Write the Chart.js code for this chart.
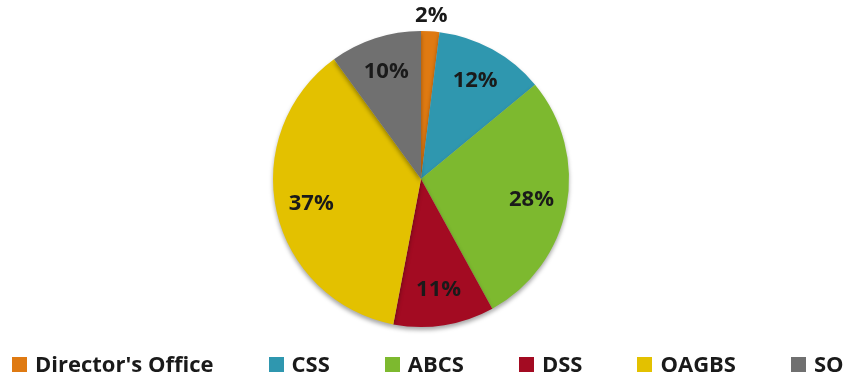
<!DOCTYPE html>
<html>
<head>
<meta charset="utf-8">
<script src="https://cdn.jsdelivr.net/npm/chart.js@4/dist/chart.umd.min.js"></script>
<style>
  html, body { margin: 0; padding: 0; background: #fff; }
  #wrap { position: relative; width: 848px; height: 375px; }
  #legend {
    position: absolute; left: 12px; top: 348px;
    display: flex; align-items: center; gap: 55px;
    font-family: "Open Sans", sans-serif;
    font-weight: bold; font-size: 22px; line-height: 30px; color: #1a1a1a; white-space: nowrap;
  }
  #legend .item { display: flex; align-items: center; }
  #legend .box { width: 15px; height: 15px; margin-right: 8px; margin-top: 2px; }
</style>
</head>
<body>
<div id="wrap">
  <canvas id="deptChart" width="848" height="375"></canvas>
  <div id="legend"></div>
</div>
<script>
const departments = ["Director's Office", 'CSS', 'ABCS', 'DSS', 'OAGBS', 'SO'];
const shares = [2, 12, 28, 11, 37, 10];
const sliceColors = ['#DF7A12', '#2F97AF', '#7DB92F', '#A30B22', '#E3C100', '#707070'];

const labelFont = 'bold 22px "Open Sans", sans-serif';

// soft drop shadow under the pie
const pieShadow = {
  id: 'pieShadow',
  beforeDatasetsDraw(chart) {
    const ctx = chart.ctx;
    ctx.save();
    ctx.shadowColor = 'rgba(0,0,0,0.35)';
    ctx.shadowBlur = 4;
    ctx.shadowOffsetY = 3;
  },
  afterDatasetsDraw(chart) {
    chart.ctx.restore();
  }
};

// percentage labels, small slices get theirs outside the rim
const sliceLabels = {
  id: 'sliceLabels',
  afterDraw(chart) {
    const ctx = chart.ctx;
    const meta = chart.getDatasetMeta(0);
    ctx.save();
    ctx.font = labelFont;
    ctx.fillStyle = '#1a1a1a';
    ctx.textAlign = 'center';
    ctx.textBaseline = 'middle';
    meta.data.forEach((arc, i) => {
      const { x, y, startAngle, endAngle, outerRadius } = arc.getProps(['x', 'y', 'startAngle', 'endAngle', 'outerRadius'], true);
      const mid = (startAngle + endAngle) / 2;
      const r = shares[i] < 5 ? outerRadius + 16 : outerRadius * 0.76;
      ctx.fillText(shares[i] + '%', x + Math.cos(mid) * r, y + Math.sin(mid) * r);
    });
    ctx.restore();
  }
};

const chart = new Chart(document.getElementById('deptChart'), {
  type: 'pie',
  data: {
    labels: departments,
    datasets: [{
      data: shares,
      backgroundColor: sliceColors,
      borderWidth: 0,
      hoverOffset: 0
    }]
  },
  options: {
    responsive: false,
    animation: false,
    radius: 148,
    layout: { padding: { top: 20, bottom: 37, left: 0, right: 6 } },
    plugins: {
      legend: { display: false },
      tooltip: { enabled: false }
    }
  },
  plugins: [pieShadow, sliceLabels]
});

// legend built from the chart's own labels
const legendEl = document.getElementById('legend');
departments.forEach((name, i) => {
  const item = document.createElement('div');
  item.className = 'item';
  const box = document.createElement('span');
  box.className = 'box';
  box.style.background = sliceColors[i];
  const text = document.createElement('span');
  text.textContent = name;
  item.appendChild(box);
  item.appendChild(text);
  legendEl.appendChild(item);
});
</script>
</body>
</html>
